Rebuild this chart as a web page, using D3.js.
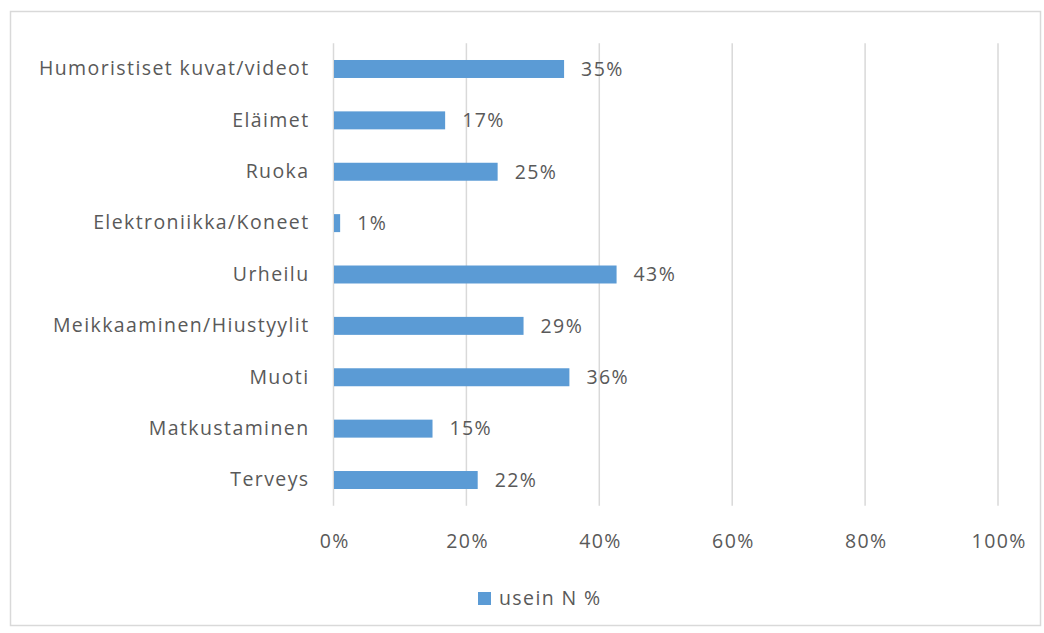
<!DOCTYPE html>
<html>
<head>
<meta charset="utf-8">
<script src="https://cdn.jsdelivr.net/npm/d3@7"></script>
<style>
  body { margin: 0; background: #fff; }
  text { font-family: "Open Sans", sans-serif; fill: #595959; letter-spacing: 1.4px; }
</style>
</head>
<body>
<script>
// categories top to bottom, values in percent
var categories = ["Humoristiset kuvat/videot", "Eläimet", "Ruoka", "Elektroniikka/Koneet",
                  "Urheilu", "Meikkaaminen/Hiustyylit", "Muoti", "Matkustaminen", "Terveys"];
var values = [34.7, 16.8, 24.7, 1.0, 42.6, 28.6, 35.5, 14.9, 21.7];
var valueLabels = ["35%", "17%", "25%", "1%", "43%", "29%", "36%", "15%", "22%"];
var tickValues = [0, 20, 40, 60, 80, 100];
var seriesName = "usein N %";

var w = 1044, h = 633;
var fs = 19.5;
var svg = d3.select("body").append("svg")
    .attr("width", w)
    .attr("height", h);

// chart border
svg.append("rect")
    .attr("x", 10.5).attr("y", 11.5)
    .attr("width", 1030).attr("height", 614)
    .attr("fill", "none")
    .attr("stroke", "#d9d9d9")
    .attr("stroke-width", 1.5);

var x = d3.scaleLinear().domain([0, 100]).range([333.5, 998]);
var y = d3.scaleBand().domain(categories).range([43.3, 505.7]).paddingInner(0.65).paddingOuter(0.325);

// gridlines
svg.selectAll("line.grid")
    .data(tickValues)
    .enter()
    .append("line")
    .attr("class", "grid")
    .attr("x1", function(d) { return x(d); })
    .attr("x2", function(d) { return x(d); })
    .attr("y1", 43.3)
    .attr("y2", 505.7)
    .attr("stroke", "#d9d9d9")
    .attr("stroke-width", 1.5);

// x axis labels
var xAxis = d3.axisBottom(x).tickValues(tickValues).tickSize(0).tickPadding(0)
    .tickFormat(function(d) { return d + "%"; });
var gx = svg.append("g").attr("transform", "translate(0.7,534)").call(xAxis);
gx.select(".domain").remove();
gx.selectAll("text").attr("font-size", fs).attr("fill", "#595959")
    .style("font-family", "'Open Sans', sans-serif");

// y axis labels
var yAxis = d3.axisLeft(y).tickSize(0).tickPadding(24);
var gy = svg.append("g").attr("transform", "translate(333.5,0)").call(yAxis);
gy.select(".domain").remove();
gy.selectAll("text").attr("font-size", fs).attr("fill", "#595959")
    .style("font-family", "'Open Sans', sans-serif");

// bars
svg.selectAll("rect.bar")
    .data(values)
    .enter()
    .append("rect")
    .attr("class", "bar")
    .attr("x", x(0) + 0.5)
    .attr("y", function(d, i) { return y(categories[i]); })
    .attr("width", function(d) { return x(d) - x(0) - 0.5; })
    .attr("height", y.bandwidth())
    .attr("fill", "#5b9bd5");

// value labels
svg.selectAll("text.val")
    .data(values)
    .enter()
    .append("text")
    .attr("class", "val")
    .attr("x", function(d) { return x(d) + 17; })
    .attr("y", function(d, i) { return y(categories[i]) + y.bandwidth() / 2; })
    .attr("dy", "0.35em")
    .attr("font-size", fs)
    .text(function(d, i) { return valueLabels[i]; });

// legend
var legend = svg.append("g").attr("transform", "translate(478,592)");
legend.append("rect").attr("width", 13).attr("height", 13).attr("fill", "#5b9bd5");
legend.append("text").attr("x", 21).attr("y", 6.5).attr("dy", "0.35em")
    .attr("font-size", fs).text(seriesName);
</script>
</body>
</html>
